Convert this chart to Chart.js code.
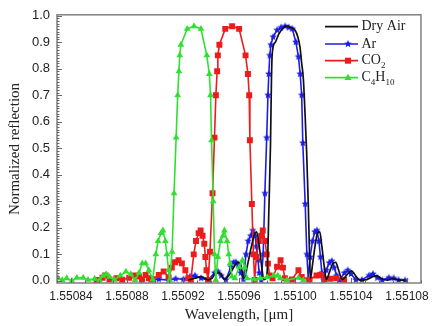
<!DOCTYPE html>
<html><head><meta charset="utf-8">
<script src="https://cdn.jsdelivr.net/npm/chart.js@4/dist/chart.umd.min.js"></script>
<style>html,body{margin:0;padding:0;background:#fff}#wrap{position:relative;width:435px;height:326px}</style>
</head><body><div id="wrap"><canvas id="c" width="435" height="326"></canvas></div>
<script>
// ---- tick labels ----
const xTicks = [1.55084,1.55088,1.55092,1.55096,1.55100,1.55104,1.55108];
const yTicks = [0,0.1,0.2,0.3,0.4,0.5,0.6,0.7,0.8,0.9,1.0];
const seriesNames = ['Dry Air','Ar','CO2','C4H10'];

// ---- Dry Air (black line) ----
const dryAirX = [1.5509238,1.5509285,1.5509330,1.5509379,1.5509407,1.5509437,1.5509463,1.5509496,1.5509527,1.5509562,1.5509590,1.5509613,1.5509637,1.5509661,1.5509689,1.5509710,1.5509726,1.5509745,1.5509763,1.5509777,1.5509794,1.5509803,1.5509813,1.5509825,1.5509832,1.5509838,1.5509860,1.5509884,1.5509919,1.5509942,1.5509970,1.5510001,1.5510020,1.5510036,1.5510048,1.5510060,1.5510071,1.5510083,1.5510095,1.5510102,1.5510111,1.5510125,1.5510143,1.5510161,1.5510177,1.5510192,1.5510210,1.5510224,1.5510245,1.5510270,1.5510291,1.5510312,1.5510337,1.5510375,1.5510404,1.5510432,1.5510463,1.5510506,1.5510551,1.5510583,1.5510618,1.5510661,1.5510696,1.5510738,1.5510787];
const dryAirY = [0.003,0.01,0.016,0.004,0.01,0.03,0.03,0.005,0.02,0.05,0.07,0.06,0.005,0.06,0.13,0.175,0.185,0.13,0.05,0.005,0.01,0.05,0.26,0.51,0.76,0.86,0.90,0.93,0.955,0.96,0.955,0.945,0.92,0.88,0.82,0.76,0.64,0.49,0.29,0.14,0.01,0.06,0.13,0.18,0.185,0.13,0.05,0.005,0.03,0.065,0.07,0.04,0.005,0.025,0.038,0.02,0.003,0.004,0.015,0.02,0.008,0.003,0.008,0.004,0.002];

// ---- Ar (blue stars) ----
const arX = [1.5508968,1.5509027,1.5509097,1.5509147,1.5509203,1.5509250,1.5509285,1.5509330,1.5509379,1.5509426,1.5509449,1.5509473,1.5509506,1.5509543,1.5509562,1.5509578,1.5509595,1.5509613,1.5509632,1.5509650,1.5509666,1.5509684,1.5509699,1.5509715,1.5509724,1.5509735,1.5509745,1.5509759,1.5509773,1.5509785,1.5509798,1.5509807,1.5509813,1.5509820,1.5509828,1.5509844,1.5509872,1.5509900,1.5509930,1.5509956,1.5509981,1.5510006,1.5510025,1.5510037,1.5510048,1.5510056,1.5510073,1.5510085,1.5510095,1.5510108,1.5510125,1.5510142,1.5510157,1.5510171,1.5510182,1.5510192,1.5510203,1.5510224,1.5510245,1.5510263,1.5510280,1.5510298,1.5510318,1.5510353,1.5510377,1.5510400,1.5510435,1.5510478,1.5510529,1.5510557,1.5510588,1.5510623,1.5510670,1.5510705,1.5510740,1.5510787];
const arY = [0.003,0.006,0.003,0.008,0.006,0.016,0.02,0.01,0.003,0.03,0.035,0.02,0.004,0.053,0.07,0.07,0.06,0.03,0.006,0.10,0.15,0.17,0.19,0.17,0.13,0.08,0.03,0.004,0.10,0.33,0.54,0.70,0.78,0.85,0.89,0.92,0.945,0.955,0.96,0.955,0.95,0.90,0.845,0.78,0.70,0.52,0.29,0.10,0.005,0.09,0.15,0.185,0.19,0.15,0.09,0.03,0.005,0.04,0.068,0.075,0.05,0.02,0.003,0.03,0.04,0.026,0.004,0.004,0.02,0.026,0.012,0.003,0.012,0.01,0.003,0.002];

// ---- CO2 (red squares) ----
const co2X = [1.5508583,1.5508625,1.5508647,1.5508675,1.5508724,1.5508766,1.5508816,1.5508858,1.5508886,1.5508907,1.5508933,1.5508956,1.5508984,1.5509027,1.5509062,1.5509097,1.5509120,1.5509143,1.5509168,1.5509192,1.5509217,1.5509238,1.5509256,1.5509277,1.5509293,1.5509312,1.5509326,1.5509340,1.5509352,1.5509360,1.5509368,1.5509379,1.5509393,1.5509411,1.5509425,1.5509435,1.5509444,1.5509449,1.5509460,1.5509502,1.5509551,1.5509601,1.5509647,1.5509664,1.5509673,1.5509678,1.5509692,1.5509703,1.5509712,1.5509724,1.5509742,1.5509759,1.5509770,1.5509787,1.5509798,1.5509807,1.5509819,1.5509840,1.5509872,1.5509897,1.5509914,1.5509928,1.5509978,1.5510025,1.5510048,1.5510104,1.5510154,1.5510182,1.5510210,1.5510252,1.5510294,1.5510351];
const co2Y = [0.003,0.012,0.02,0.005,0.01,0.004,0.012,0.02,0.016,0.005,0.022,0.01,0.006,0.022,0.035,0.014,0.05,0.07,0.078,0.066,0.04,0.01,0.003,0.10,0.15,0.18,0.19,0.17,0.14,0.09,0.04,0.003,0.11,0.33,0.54,0.70,0.79,0.85,0.89,0.95,0.96,0.95,0.85,0.78,0.70,0.53,0.29,0.10,0.003,0.09,0.15,0.17,0.19,0.15,0.10,0.065,0.02,0.01,0.053,0.078,0.05,0.01,0.005,0.04,0.015,0.005,0.02,0.022,0.006,0.008,0.01,0.004];

// ---- C4H10 (green triangles) ----
const c4h10X = [1.5508308,1.5508337,1.5508370,1.5508407,1.5508442,1.5508487,1.5508522,1.5508569,1.5508604,1.5508627,1.5508651,1.5508675,1.5508710,1.5508752,1.5508792,1.5508827,1.5508858,1.5508886,1.5508909,1.5508933,1.5508956,1.5508984,1.5509006,1.5509022,1.5509043,1.5509057,1.5509074,1.5509085,1.5509097,1.5509104,1.5509122,1.5509136,1.5509151,1.5509162,1.5509171,1.5509177,1.5509185,1.5509230,1.5509279,1.5509328,1.5509370,1.5509388,1.5509397,1.5509404,1.5509416,1.5509425,1.5509434,1.5509449,1.5509468,1.5509485,1.5509496,1.5509515,1.5509527,1.5509536,1.5509550,1.5509571,1.5509602,1.5509625,1.5509642,1.5509656,1.5509708,1.5509752,1.5509801,1.5509849,1.5509877,1.5509895,1.5509942,1.5510025,1.5510060];
const c4h10Y = [0.01,0.003,0.01,0.0,0.012,0.012,0.004,0.008,0.002,0.019,0.025,0.015,0.004,0.02,0.035,0.025,0.003,0.03,0.066,0.066,0.04,0.005,0.10,0.15,0.18,0.19,0.15,0.10,0.04,0.003,0.11,0.33,0.54,0.70,0.79,0.85,0.89,0.95,0.96,0.95,0.85,0.78,0.70,0.53,0.30,0.10,0.003,0.09,0.15,0.17,0.19,0.15,0.10,0.065,0.016,0.01,0.053,0.078,0.05,0.01,0.005,0.01,0.014,0.02,0.02,0.01,0.003,0.012,0.003];

const COL = {black:'#111111', blue:'#1c1ce8', red:'#ec1c1c', green:'#30e030'};
const pts = (xs, ys) => xs.map((x, i) => ({x, y: ys[i]}));

function starCanvas(color, r){
  const s = Math.ceil(r*2)+2;
  const c = document.createElement('canvas'); c.width = s; c.height = s;
  const g = c.getContext('2d'); g.fillStyle = color; g.beginPath();
  for (let i = 0; i < 10; i++) {
    const a = -Math.PI/2 + i*Math.PI/5; const rr = (i % 2) ? r*0.45 : r;
    g.lineTo(s/2 + rr*Math.cos(a), s/2 + rr*Math.sin(a));
  }
  g.closePath(); g.fill(); return c;
}
const star = starCanvas(COL.blue, 3.9);

const SANS = "'Liberation Sans', Arial, sans-serif";
const SERIF = "'Liberation Serif', 'Times New Roman', serif";

const framePlugin = {
  id: 'frame',
  afterDatasetsDraw(chart) {
    const {ctx, chartArea: a, scales: {x, y}} = chart;
    ctx.save();
    ctx.strokeStyle = '#808080'; ctx.lineWidth = 1.5;
    ctx.strokeRect(a.left, a.top, a.right - a.left, a.bottom - a.top);
    ctx.strokeStyle = '#666'; ctx.lineWidth = 1;
    ctx.beginPath();
    for (let v = 0; v <= 1.0001; v += 0.01) {
      const p = Math.round(y.getPixelForValue(v)) + 0.5;
      const major = Math.abs(v*10 - Math.round(v*10)) < 1e-6;
      ctx.moveTo(a.left, p); ctx.lineTo(a.left + (major ? 5 : 2.5), p);
    }
    for (let v = 1.55083; v <= 1.551090001; v += 0.00001) {
      const p = Math.round(x.getPixelForValue(v)) + 0.5;
      const n = Math.round((v - 1.55084) / 0.00001);
      const major = n % 4 === 0;
      ctx.moveTo(p, a.bottom); ctx.lineTo(p, a.bottom - (major ? 5 : 2.5));
    }
    ctx.stroke();
    ctx.restore();
  }
};

const legendPlugin = {
  id: 'customLegend',
  afterDraw(chart) {
    const ctx = chart.ctx;
    const rows = [
      {y: 26.7, color: COL.black, marker: null, parts: [['Dry Air', 0]]},
      {y: 44, color: COL.blue, marker: 'star', parts: [['Ar', 0]]},
      {y: 60.7, color: COL.red, marker: 'rect', parts: [['CO', 0], ['2', 1]]},
      {y: 77.7, color: COL.green, marker: 'tri', parts: [['C', 0], ['4', 1], ['H', 0], ['10', 1]]}
    ];
    ctx.save();
    rows.forEach(r => {
      ctx.strokeStyle = r.color; ctx.lineWidth = 1.7;
      ctx.beginPath(); ctx.moveTo(325, r.y); ctx.lineTo(358, r.y); ctx.stroke();
      const mx = 348;
      ctx.fillStyle = r.color;
      if (r.marker === 'star') ctx.drawImage(star, mx - star.width/2, r.y - star.height/2);
      else if (r.marker === 'rect') ctx.fillRect(mx - 3, r.y - 3, 6, 6);
      else if (r.marker === 'tri') { ctx.beginPath(); ctx.moveTo(mx, r.y - 4); ctx.lineTo(mx + 3.6, r.y + 2.4); ctx.lineTo(mx - 3.6, r.y + 2.4); ctx.closePath(); ctx.fill(); }
      let tx = 361.5;
      ctx.fillStyle = '#222'; ctx.textBaseline = 'middle'; ctx.textAlign = 'left';
      r.parts.forEach(([t, sub]) => {
        ctx.font = sub ? `9px ${SERIF}` : `14px ${SERIF}`;
        ctx.fillText(t, tx, r.y + (sub ? 5 : 0));
        tx += ctx.measureText(t).width;
      });
    });
    ctx.restore();
  }
};

new Chart(document.getElementById('c'), {
  type: 'scatter',
  data: {
    datasets: [
      {label: seriesNames[3], data: pts(c4h10X, c4h10Y), showLine: true, borderColor: COL.green, backgroundColor: COL.green, borderWidth: 1.6, pointStyle: 'triangle', pointRadius: 3.9, pointBorderWidth: 0},
      {label: seriesNames[0], data: pts(dryAirX, dryAirY), showLine: true, borderColor: COL.black, backgroundColor: COL.black, borderWidth: 1.7, pointRadius: 0, cubicInterpolationMode: 'monotone'},
      {label: seriesNames[2], data: pts(co2X, co2Y), showLine: true, borderColor: COL.red, backgroundColor: COL.red, borderWidth: 1.6, pointStyle: 'rect', pointRadius: 4.2, pointBorderWidth: 0},
      {label: seriesNames[1], data: pts(arX, arY), showLine: true, borderColor: COL.blue, backgroundColor: COL.blue, borderWidth: 1.6, pointStyle: star, pointRadius: 3.5}
    ]
  },
  options: {
    responsive: false, animation: false, devicePixelRatio: 1,
    layout: {padding: {top: 11, right: 9, left: 0, bottom: 0}},
    plugins: {legend: {display: false}, tooltip: {enabled: false}},
    scales: {
      x: {
        type: 'linear', min: 1.55083, max: 1.55109,
        afterBuildTicks: s => { s.ticks = xTicks.map(v => ({value: v})); },
        afterFit: s => { s.height = 43; },
        grid: {display: false, drawTicks: false}, border: {display: false},
        ticks: {font: {family: SANS, size: 12}, color: '#222', padding: 6, maxRotation: 0, autoSkip: false, callback: v => Number(v).toFixed(5)},
        title: {display: true, text: 'Wavelength, [\u03bcm]', font: {family: SERIF, size: 15}, color: '#222', padding: {top: 0, bottom: 2}}
      },
      y: {
        type: 'linear', min: -0.008, max: 1.003,
        afterBuildTicks: s => { s.ticks = yTicks.map(v => ({value: v})); },
        afterFit: s => { s.width = 57; },
        grid: {display: false, drawTicks: false}, border: {display: false},
        ticks: {font: {family: SANS, size: 13}, color: '#222', padding: 7, callback: v => Number(v).toFixed(1)},
        title: {display: true, text: 'Normalized reflection', font: {family: SERIF, size: 15}, color: '#222', padding: {top: 6, bottom: 0}}
      }
    }
  },
  plugins: [framePlugin, legendPlugin]
});
</script></body></html>
